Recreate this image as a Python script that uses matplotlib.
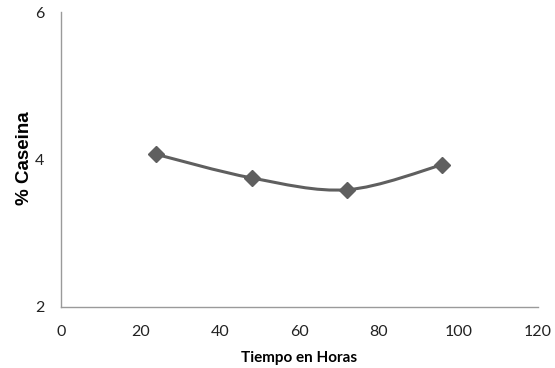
import numpy as np
import matplotlib
matplotlib.use("Agg")
import matplotlib.pyplot as plt
from matplotlib.path import Path
from matplotlib.patches import PathPatch

# Data
horas = [24, 48, 72, 96]
caseina = [4.07, 3.75, 3.59, 3.93]
x_ticks = [0, 20, 40, 60, 80, 100, 120]
y_ticks = [2, 4, 6]

fig = plt.figure(figsize=(5.55, 3.68), dpi=100)
ax = fig.add_axes([0.110, 0.166, 0.859, 0.801])

# Excel-like smoothed line (Catmull-Rom as cubic Bezier)
pts = np.column_stack([horas, caseina]).astype(float)
sx = 3.975
sy = 73.75
P = pts * np.array([sx, sy])
verts = [tuple(P[0])]
codes = [Path.MOVETO]
n = len(P)
for i in range(n - 1):
    p0 = P[i - 1] if i > 0 else P[i]
    p1 = P[i]
    p2 = P[i + 1]
    p3 = P[i + 2] if i + 2 < n else P[i + 1]
    c1 = p1 + (p2 - p0) / 6.0
    c2 = p2 - (p3 - p1) / 6.0
    verts += [tuple(c1), tuple(c2), tuple(p2)]
    codes += [Path.CURVE4] * 3
verts = [(v[0] / sx, v[1] / sy) for v in verts]
path = Path(verts, codes)
ax.add_patch(PathPatch(path, facecolor="none", edgecolor="#5f5f5f", lw=2.2,
                       capstyle="round", joinstyle="round", zorder=2))
ax.plot(horas, caseina, linestyle="none", marker="D", markersize=8,
        color="#5f5f5f", zorder=3)

ax.set_xlim(0, 120)
ax.set_ylim(2, 6)
ax.set_xticks(x_ticks)
ax.set_yticks(y_ticks)
ax.tick_params(length=0, labelsize=11.5, colors="#222222")
ax.tick_params(axis="x", pad=13)
ax.tick_params(axis="y", pad=12)
for lab in ax.get_xticklabels() + ax.get_yticklabels():
    lab.set_family("Lato")
for s in ["top", "right"]:
    ax.spines[s].set_visible(False)
for s in ["left", "bottom"]:
    ax.spines[s].set_color("#9a9a9a")
    ax.spines[s].set_linewidth(1.0)

ax.set_xlabel("Tiempo en Horas", family="Lato", fontweight="bold", fontsize=11,
              labelpad=9)
ax.set_ylabel("% Caseina", family="Liberation Sans", fontweight="bold",
              fontsize=13.5)
ax.yaxis.set_label_coords(-0.058, 0.505)

fig.savefig("out.png", dpi=100, facecolor="white")
